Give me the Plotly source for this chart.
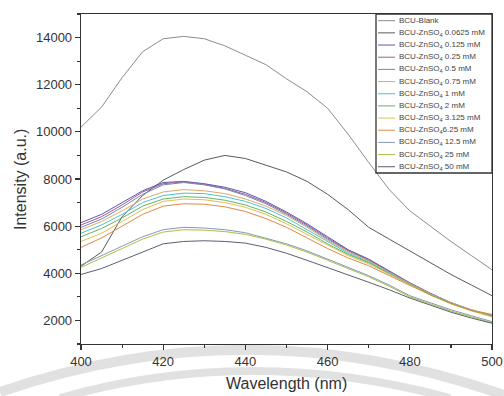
import plotly.graph_objects as go

# ---------------- data ----------------
wavelength = [400, 405, 410, 415, 420, 425, 430, 435, 440, 445, 450,
              455, 460, 465, 470, 475, 480, 485, 490, 495, 500]

series_names = [
    "BCU-Blank",
    "BCU-ZnSO<sub>4</sub> 0.0625 mM",
    "BCU-ZnSO<sub>4</sub> 0.125 mM",
    "BCU-ZnSO<sub>4</sub> 0.25 mM",
    "BCU-ZnSO<sub>4</sub> 0.5 mM",
    "BCU-ZnSO<sub>4</sub> 0.75 mM",
    "BCU-ZnSO<sub>4</sub> 1 mM",
    "BCU-ZnSO<sub>4</sub> 2 mM",
    "BCU-ZnSO<sub>4</sub> 3.125 mM",
    "BCU-ZnSO<sub>4</sub>6.25 mM",
    "BCU-ZnSO<sub>4</sub> 12.5 mM",
    "BCU-ZnSO<sub>4</sub> 25 mM",
    "BCU-ZnSO<sub>4</sub> 50 mM",
]

blank = [10200, 11050, 12300, 13400, 13950, 14050, 13950, 13650, 13250, 12850, 12250,
         11700, 11000, 9900, 8700, 7550, 6650, 6000, 5350, 4750, 4150]
zn_0_0625 = [4300, 4900, 6400, 7300, 7950, 8400, 8800, 9000, 8870, 8600, 8300,
             7900, 7350, 6700, 5950, 5450, 4950, 4450, 3950, 3500, 3050]
zn_0_125 = [6150, 6500, 7000, 7500, 7850, 7900, 7800, 7650, 7420, 7050, 6600,
            6100, 5550, 5000, 4600, 4100, 3600, 3150, 2750, 2450, 2200]
zn_0_25 = [6050, 6400, 6900, 7450, 7800, 7880, 7780, 7600, 7350, 7000, 6550,
           6050, 5500, 4980, 4580, 4080, 3580, 3150, 2750, 2430, 2200]
zn_0_5 = [5950, 6300, 6800, 7350, 7750, 7850, 7750, 7580, 7300, 6950, 6500,
          6000, 5450, 4950, 4550, 4050, 3570, 3120, 2730, 2420, 2180]
zn_0_75 = [5850, 6200, 6650, 7150, 7450, 7550, 7500, 7380, 7150, 6850, 6450,
           5950, 5400, 4900, 4520, 4030, 3560, 3130, 2760, 2450, 2250]
zn_1 = [5700, 6050, 6500, 7000, 7300, 7400, 7380, 7250, 7050, 6750, 6350,
        5850, 5350, 4850, 4480, 4000, 3540, 3120, 2750, 2440, 2200]
zn_2 = [5550, 5900, 6350, 6850, 7150, 7250, 7220, 7100, 6900, 6600, 6200,
        5750, 5250, 4800, 4450, 3980, 3520, 3100, 2720, 2420, 2180]
zn_3_125 = [5350, 5700, 6200, 6700, 7050, 7150, 7120, 7000, 6800, 6500, 6100,
            5650, 5200, 4750, 4400, 3950, 3500, 3080, 2700, 2400, 2150]
zn_6_25 = [5100, 5500, 6000, 6500, 6850, 6950, 6930, 6820, 6620, 6320, 5950,
           5500, 5050, 4650, 4320, 3900, 3480, 3080, 2720, 2420, 2250]
zn_12_5 = [4350, 4750, 5150, 5550, 5850, 5950, 5920, 5850, 5720, 5500, 5250,
           4950, 4600, 4250, 3900, 3500, 3050, 2750, 2450, 2200, 1950]
zn_25 = [4250, 4650, 5050, 5450, 5750, 5850, 5830, 5770, 5650, 5450, 5200,
         4900, 4550, 4200, 3850, 3450, 3000, 2700, 2400, 2150, 1900]
zn_50 = [3950, 4200, 4550, 4900, 5250, 5350, 5380, 5350, 5280, 5100, 4850,
         4550, 4250, 3950, 3620, 3300, 2950, 2650, 2350, 2100, 1880]

series_values = [blank, zn_0_0625, zn_0_125, zn_0_25, zn_0_5, zn_0_75, zn_1,
                 zn_2, zn_3_125, zn_6_25, zn_12_5, zn_25, zn_50]

series_colors = ["#8c8c8c", "#5a5a5a", "#5858b8", "#a05a95", "#7a86a8", "#e0a868",
                 "#48c4d4", "#68b068", "#d8c450", "#e08848", "#8898b8", "#a8c048",
                 "#5a6070"]

x_tickvals = [400, 420, 440, 460, 480, 500]
y_tickvals = [2000, 4000, 6000, 8000, 10000, 12000, 14000]

FONT = "Liberation Sans, Arial, sans-serif"

# ---------------- layout geometry (pixels) ----------------
W, H = 504, 396
L, R, T, B = 81, 492, 14, 344


def px(x, y):
    return (x - L) / (R - L), (B - y) / (B - T)


fig = go.Figure()
for name, vals, col in zip(series_names, series_values, series_colors):
    fig.add_trace(go.Scatter(x=wavelength, y=vals, mode="lines", name=name,
                             line=dict(color=col, width=1), showlegend=False))

shapes = []
annotations = []

# faint watermark arcs in the background
for (x0, y0, cx, cy, x1, y1, w) in [(0, 392, 250, 306, 504, 395, 10),
                                     (60, 398, 250, 344, 450, 398, 8)]:
    a = px(x0, y0); c = px(cx, cy); b = px(x1, y1)
    shapes.append(dict(type="path", xref="paper", yref="paper", layer="below",
                       path=f"M {a[0]},{a[1]} Q {c[0]},{c[1]} {b[0]},{b[1]}",
                       line=dict(color="rgba(200,200,200,0.55)", width=w)))

# compact legend box
lx0, lx1, ly0, ly1 = 376, 492, 14, 173
p0 = px(lx0, ly0); p1 = px(lx1, ly1)
shapes.append(dict(type="rect", xref="paper", yref="paper", x0=p0[0], y0=p1[1],
                   x1=p1[0], y1=p0[1], line=dict(color="#333333", width=1.3),
                   fillcolor="white", layer="above"))
first_y, step = 20.7, 12.17
for i, (name, col) in enumerate(zip(series_names, series_colors)):
    yy = first_y + i * step
    s0 = px(378, yy); s1 = px(395, yy)
    shapes.append(dict(type="line", xref="paper", yref="paper", x0=s0[0], y0=s0[1],
                       x1=s1[0], y1=s1[1], line=dict(color=col, width=1), layer="above"))
    t = px(397, yy)
    annotations.append(dict(xref="paper", yref="paper", x=t[0], y=t[1], text=name,
                            showarrow=False, xanchor="left", yanchor="middle",
                            font=dict(size=8, color="#444444", family=FONT)))

# axis titles
tx = px(286.5, 383)
annotations.append(dict(xref="paper", yref="paper", x=tx[0], y=tx[1],
                        text="Wavelength (nm)", showarrow=False,
                        xanchor="center", yanchor="middle",
                        font=dict(size=16, color="#333333", family=FONT)))
ty = px(20, 179)
annotations.append(dict(xref="paper", yref="paper", x=ty[0], y=ty[1],
                        text="Intensity (a.u.)", showarrow=False, textangle=-90,
                        xanchor="center", yanchor="middle",
                        font=dict(size=16, color="#333333", family=FONT)))

axis_common = dict(
    showline=True, linecolor="#333333", linewidth=1.3, mirror=True,
    ticks="outside", ticklen=5, tickwidth=1.2, tickcolor="#333333",
    showgrid=False, zeroline=False, automargin=False, tickformat="d",
    tickfont=dict(size=13, color="#333333", family=FONT),
)

fig.update_layout(
    template="none",
    width=W, height=H,
    margin=dict(l=L, r=W - R, t=T, b=H - B, pad=0),
    paper_bgcolor="white", plot_bgcolor="white",
    font=dict(family=FONT, color="#333333"),
    hovermode=False,
    xaxis=dict(range=[400, 500], tickvals=x_tickvals,
               minor=dict(ticks="outside", ticklen=3, tickcolor="#333333", dtick=10, tick0=400),
               **axis_common),
    yaxis=dict(range=[1000, 15000], tickvals=y_tickvals,
               minor=dict(ticks="outside", ticklen=3, tickcolor="#333333", dtick=1000, tick0=1000),
               **axis_common),
    shapes=shapes,
    annotations=annotations,
)

fig.write_html("out.html",
               config={"displayModeBar": False, "staticPlot": True},
               post_script="document.body.style.margin='0';document.body.style.overflow='hidden';")
